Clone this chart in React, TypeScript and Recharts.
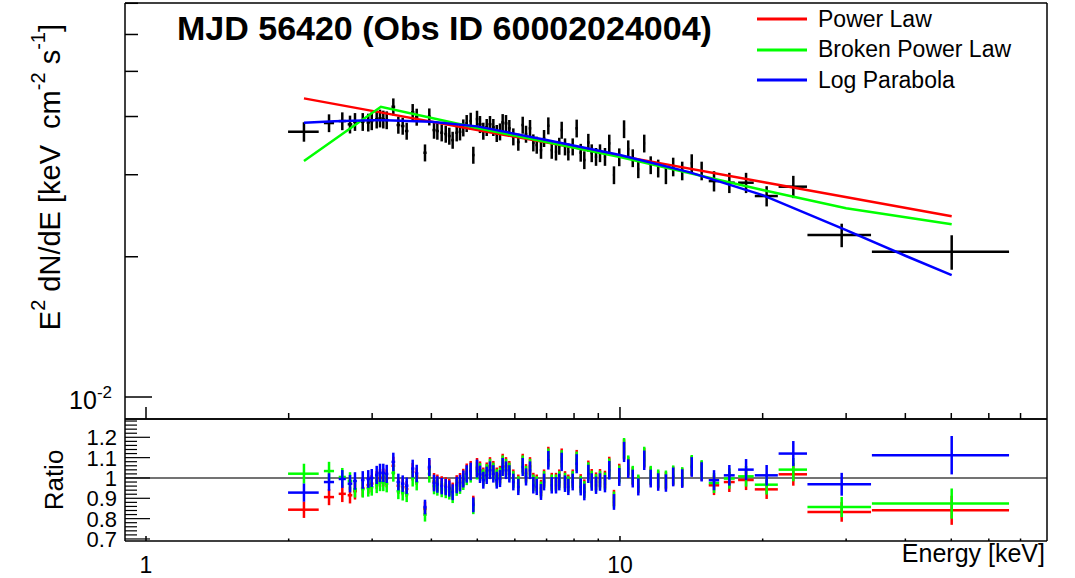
import React from 'react'
import { ComposedChart, Scatter, Line, XAxis, YAxis, ErrorBar, ReferenceLine, Legend } from 'recharts'

const FONT = '"Liberation Sans", Arial, Helvetica, sans-serif'

// 能量 (keV)
const energy = [
  2.154, 2.433, 2.595, 2.694, 2.760, 2.866, 2.944, 2.994, 3.067, 3.117,
  3.167, 3.220, 3.325, 3.407, 3.480, 3.548, 3.653, 3.725, 3.878, 3.960,
  4.052, 4.118, 4.206, 4.289, 4.364, 4.436, 4.524, 4.597, 4.671, 4.749,
  4.842, 4.904, 4.993, 5.066, 5.148, 5.234, 5.318, 5.405, 5.495, 5.583,
  5.656, 5.748, 5.842, 5.956, 6.102, 6.234, 6.335, 6.459, 6.564, 6.674,
  6.813, 6.915, 7.060, 7.178, 7.328, 7.446, 7.534, 7.656, 7.780, 7.948,
  8.103, 8.263, 8.409, 8.574, 8.717, 8.901, 9.075, 9.297, 9.493, 9.712,
  9.965, 10.20, 10.41, 10.64, 10.93, 11.25, 11.61, 12.04, 12.50, 12.95,
  13.53, 14.17, 14.87, 15.79, 17.01, 18.45, 20.39, 23.21, 29.36, 50.10
]

// 能量半宽 (keV)
const energyErr = [
  0.16, 0.06, 0.045, 0.03, 0.025, 0.025, 0.025, 0.025, 0.025, 0.025,
  0.025, 0.025, 0.03, 0.03, 0.03, 0.03, 0.03, 0.03, 0.03, 0.03,
  0.03, 0.03, 0.03, 0.03, 0.03, 0.03, 0.03, 0.03, 0.03, 0.03,
  0.03, 0.03, 0.03, 0.04, 0.04, 0.04, 0.04, 0.04, 0.04, 0.04,
  0.04, 0.04, 0.04, 0.04, 0.04, 0.04, 0.04, 0.04, 0.04, 0.04,
  0.04, 0.04, 0.04, 0.04, 0.04, 0.04, 0.04, 0.04, 0.04, 0.04,
  0.05, 0.05, 0.05, 0.05, 0.05, 0.05, 0.05, 0.05, 0.05, 0.05,
  0.05, 0.05, 0.05, 0.05, 0.05, 0.05, 0.05, 0.05, 0.05, 0.07,
  0.07, 0.07, 0.07, 0.4, 0.45, 0.7, 1.14, 1.6, 4.5, 16.1
]

// E^2 dN/dE
const flux = [
  0.03710, 0.03873, 0.03911, 0.03848, 0.03897, 0.03897, 0.03885, 0.03911, 0.03944, 0.03964,
  0.03944, 0.03930, 0.04198, 0.03835, 0.03816, 0.03723, 0.04083, 0.03990, 0.03344, 0.03995,
  0.03741, 0.03723, 0.03692, 0.03668, 0.03632, 0.03560, 0.03692, 0.03710, 0.03784, 0.03867,
  0.03911, 0.03306, 0.03950, 0.03848, 0.03723, 0.03792, 0.03848, 0.03792, 0.03681, 0.03710,
  0.03885, 0.03867, 0.03773, 0.03620, 0.03526, 0.03835, 0.03668, 0.03773, 0.03514, 0.03474,
  0.03388, 0.03591, 0.03822, 0.03388, 0.03360, 0.03456, 0.03741, 0.03445, 0.03360, 0.03445,
  0.03773, 0.03347, 0.03226, 0.03517, 0.03339, 0.03279, 0.03339, 0.03279, 0.03503, 0.02995,
  0.03273, 0.03760, 0.03405, 0.03258, 0.03085, 0.03503, 0.03147, 0.03096, 0.02995, 0.03120,
  0.03059, 0.03173, 0.03059, 0.02907, 0.02884, 0.02884, 0.02700, 0.02828, 0.02226, 0.02050
]

// 相对误差
const relErr = [
  0.048, 0.044, 0.044, 0.044, 0.044, 0.044, 0.044, 0.044, 0.044, 0.044,
  0.044, 0.044, 0.042, 0.042, 0.042, 0.042, 0.042, 0.042, 0.042, 0.042,
  0.042, 0.042, 0.042, 0.042, 0.042, 0.042, 0.042, 0.042, 0.042, 0.042,
  0.042, 0.042, 0.042, 0.042, 0.042, 0.042, 0.042, 0.042, 0.042, 0.042,
  0.042, 0.042, 0.042, 0.042, 0.042, 0.042, 0.042, 0.042, 0.042, 0.042,
  0.042, 0.042, 0.042, 0.042, 0.042, 0.042, 0.042, 0.042, 0.042, 0.042,
  0.044, 0.044, 0.044, 0.044, 0.044, 0.044, 0.044, 0.044, 0.044, 0.044,
  0.044, 0.044, 0.044, 0.044, 0.044, 0.044, 0.044, 0.044, 0.044, 0.046,
  0.046, 0.046, 0.046, 0.05, 0.05, 0.05, 0.05, 0.055, 0.058, 0.085
]

// 比值: 数据 / 模型
const ratioPowerLaw = [
  0.844, 0.906, 0.922, 0.915, 0.935, 0.950, 0.965, 0.972, 0.990, 1.000,
  1.003, 0.998, 1.060, 0.962, 0.955, 0.946, 1.030, 1.008, 0.848, 1.045,
  0.983, 0.976, 0.968, 0.963, 0.956, 0.938, 0.973, 0.983, 1.003, 1.028,
  1.040, 0.876, 1.054, 1.038, 1.009, 1.033, 1.058, 1.040, 1.009, 1.017,
  1.074, 1.058, 1.040, 1.000, 0.976, 1.074, 1.025, 1.058, 0.984, 0.976,
  0.951, 1.000, 1.107, 0.984, 0.984, 1.000, 1.099, 0.992, 0.976, 1.000,
  1.090, 0.976, 0.951, 1.040, 1.000, 0.984, 1.000, 0.992, 1.058, 0.902,
  1.025, 1.140, 1.058, 1.009, 0.968, 1.099, 1.009, 0.992, 0.987, 1.010,
  1.002, 1.059, 1.035, 0.964, 0.980, 0.990, 0.944, 1.018, 0.833, 0.841
]
const ratioBroken = [
  1.021, 1.034, 1.005, 0.985, 0.945, 0.945, 0.950, 0.955, 0.968, 0.978,
  0.978, 0.972, 1.025, 0.935, 0.928, 0.920, 1.000, 0.980, 0.820, 1.020,
  0.960, 0.953, 0.945, 0.940, 0.933, 0.915, 0.952, 0.962, 0.982, 1.007,
  1.020, 0.858, 1.036, 1.030, 1.001, 1.025, 1.050, 1.032, 1.001, 1.009,
  1.066, 1.050, 1.032, 0.992, 0.968, 1.066, 1.017, 1.050, 0.976, 0.968,
  0.943, 0.992, 1.099, 0.976, 0.976, 0.992, 1.091, 0.984, 0.968, 0.992,
  1.082, 0.968, 0.943, 1.032, 0.992, 0.976, 0.992, 0.984, 1.050, 0.894,
  1.017, 1.146, 1.064, 1.015, 0.974, 1.105, 1.015, 0.998, 0.993, 1.015,
  1.007, 1.064, 1.040, 0.975, 0.997, 1.008, 0.967, 1.041, 0.857, 0.874
]
const ratioLogPar = [
  0.928, 0.980, 0.995, 0.972, 0.985, 0.990, 0.995, 1.000, 1.015, 1.025,
  1.025, 1.020, 1.079, 0.980, 0.972, 0.962, 1.046, 1.022, 0.857, 1.054,
  0.975, 0.968, 0.960, 0.955, 0.948, 0.930, 0.965, 0.975, 0.995, 1.020,
  1.032, 0.868, 1.046, 1.018, 0.989, 1.013, 1.038, 1.020, 0.989, 0.997,
  1.054, 1.038, 1.020, 0.980, 0.956, 1.054, 1.005, 1.038, 0.964, 0.956,
  0.931, 0.980, 1.087, 0.964, 0.964, 0.980, 1.079, 0.972, 0.956, 0.980,
  1.070, 0.956, 0.931, 1.020, 0.980, 0.964, 0.980, 0.972, 1.038, 0.882,
  1.005, 1.128, 1.046, 0.997, 0.956, 1.087, 0.997, 0.980, 0.975, 1.005,
  0.997, 1.054, 1.030, 0.989, 1.013, 1.041, 1.013, 1.120, 0.969, 1.112
]

// 模型曲线
const modelNames = ['Power Law', 'Broken Power Law', 'Log Parabola']
const plEnergy = [2.154, 3, 5, 10, 20, 50.1]
const plFlux = [0.04375, 0.04113, 0.03743, 0.03293, 0.02895, 0.02443]
const bplEnergy = [2.154, 3.13, 5, 10, 20, 30, 50.1]
const bplFlux = [0.03209, 0.04198, 0.03779, 0.03273, 0.02781, 0.02541, 0.02348]
const lpEnergy = [2.154, 2.5, 3, 3.2, 4, 5, 7, 10, 14, 20, 30, 40, 50.1]
const lpFlux = [0.03879, 0.03906, 0.03926, 0.03926, 0.03897, 0.03810, 0.03560, 0.03306, 0.03039, 0.02713, 0.02282, 0.02010, 0.01827]

// 刻度
const energyTicks = [1, 2, 3, 4, 5, 6, 7, 8, 9, 10, 20, 30, 40, 50, 60, 70]
const energyLabels = [1, 10]
const fluxTicks = [0.01, 0.02, 0.03, 0.04, 0.05, 0.06, 0.07]
const ratioTicks = [
  0.7, 0.72, 0.74, 0.76, 0.78, 0.8, 0.82, 0.84, 0.86, 0.88, 0.9, 0.92, 0.94, 0.96, 0.98,
  1, 1.02, 1.04, 1.06, 1.08, 1.1, 1.12, 1.14, 1.16, 1.18, 1.2, 1.22, 1.24, 1.26, 1.28
]
const ratioLabels = [0.7, 0.8, 0.9, 1, 1.1, 1.2]

const spectrum = energy.map((e, i) => ({ e, f: flux[i], fErr: flux[i] * relErr[i], eErr: energyErr[i] }))
const ratioRows = (vals: number[]) =>
  energy.map((e, i) => ({ e, r: vals[i], rErr: vals[i] * relErr[i], eErr: energyErr[i] }))
const curve = (es: number[], fs: number[]) => es.map((e, i) => ({ e, f: fs[i] }))

const X_DOMAIN = [0.903, 79.6]

const noShape = () => <g />

function SpecXTick({ x, y, payload }: any) {
  const major = energyLabels.includes(payload.value)
  return <line x1={x} x2={x} y1={y} y2={y - (major ? 12 : 6)} stroke="#000" strokeWidth={1.5} />
}

function SpecYTick({ x, y, payload }: any) {
  const major = payload.value === 0.01
  return (
    <g>
      <line x1={x} x2={x + (major ? 27 : 13)} y1={y} y2={y} stroke="#000" strokeWidth={1.5} />
      {major && (
        <text x={x - 13} y={y + 12} textAnchor="end" fontSize={25} fontFamily={FONT} fill="#000">
          10<tspan dy={-11} fontSize={17}>-2</tspan>
        </text>
      )}
    </g>
  )
}

function RatioXTick({ x, y, payload }: any) {
  const major = energyLabels.includes(payload.value)
  return (
    <g>
      <line x1={x} x2={x} y1={y} y2={y - (major ? 5 : 2.5)} stroke="#000" strokeWidth={1.5} />
      {major && (
        <text x={x} y={y + 32} textAnchor="middle" fontSize={23} fontFamily={FONT} fill="#000">
          {payload.value}
        </text>
      )}
    </g>
  )
}

function RatioYTick({ x, y, payload }: any) {
  const major = ratioLabels.some((v) => Math.abs(v - payload.value) < 1e-6)
  return (
    <g>
      <line x1={x} x2={x + (major ? 25 : 12)} y1={y} y2={y} stroke="#000" strokeWidth={1.2} />
      {major && (
        <text x={x - 8} y={y + 8} textAnchor="end" fontSize={22} fontFamily={FONT} fill="#000">
          {payload.value}
        </text>
      )}
    </g>
  )
}

function FluxTitle(props: any) {
  const vb = props.viewBox || { x: 0, y: 0, width: 0, height: 0 }
  const x = vb.x + 50
  const y = vb.y + 21
  return (
    <text x={x} y={y} transform={`rotate(-90 ${x} ${y})`} textAnchor="end" dominantBaseline="central"
      fontSize={29} fontFamily={FONT} fill="#000" style={{ whiteSpace: 'pre' }}>
      E<tspan dy={-12} fontSize={20}>2</tspan>
      <tspan dy={12}> dN/dE [keV  cm</tspan>
      <tspan dy={-12} fontSize={20}>-2</tspan>
      <tspan dy={12}> s</tspan>
      <tspan dy={-12} fontSize={20}>-1</tspan>
      <tspan dy={12}>]</tspan>
    </text>
  )
}

function RatioTitle(props: any) {
  const vb = props.viewBox || { x: 0, y: 0, width: 0, height: 0 }
  const x = vb.x + 54
  const y = vb.y + vb.height / 2
  return (
    <text x={x} y={y} transform={`rotate(-90 ${x} ${y})`} textAnchor="middle" dominantBaseline="central"
      fontSize={26} fontFamily={FONT} fill="#000">
      Ratio
    </text>
  )
}

function EnergyTitle(props: any) {
  const vb = props.viewBox || { x: 0, y: 0, width: 0, height: 0 }
  return (
    <text x={vb.x + vb.width - 2} y={vb.y + 21} textAnchor="end" fontSize={25} fontFamily={FONT} fill="#000">
      Energy [keV]
    </text>
  )
}

function ModelLegend({ payload }: any) {
  const items = (payload || [])
    .filter((p: any) => p.type !== 'none')
    .sort((a: any, b: any) => modelNames.indexOf(a.value) - modelNames.indexOf(b.value))
  return (
    <div style={{ fontFamily: FONT, fontSize: 23, color: '#000' }}>
      {items.map((p: any) => (
        <div key={p.value} style={{ display: 'flex', alignItems: 'center', height: 30.5 }}>
          <svg width={50} height={4}>
            <line x1={0} x2={50} y1={2} y2={2} stroke={p.color} strokeWidth={3} />
          </svg>
          <span style={{ marginLeft: 11 }}>{p.value}</span>
        </div>
      ))}
    </div>
  )
}

export default function App() {
  return (
    <div style={{ position: 'relative', width: 1075, height: 578, background: '#fff', fontFamily: FONT }}>
      <style>{'body{margin:0}'}</style>

      <div style={{ position: 'absolute', left: 0, top: 0 }}>
        <ComposedChart width={1075} height={420} margin={{ top: 0, right: 0, bottom: 0, left: 0 }}>
          <XAxis dataKey="e" type="number" scale="log" domain={X_DOMAIN} allowDataOverflow
            ticks={energyTicks} interval={0} tickSize={0} tickMargin={0} tickLine={false}
            tick={<SpecXTick />} height={1} axisLine={{ stroke: '#000', strokeWidth: 1.5 }} />
          <XAxis xAxisId="top" orientation="top" type="number" domain={[0, 1]} height={3}
            tick={false} tickLine={false} axisLine={{ stroke: '#000', strokeWidth: 1.5 }} />
          <YAxis type="number" scale="log" domain={[0.00897, 0.0701]} allowDataOverflow
            ticks={fluxTicks} interval={0} tickSize={0} tickMargin={0} tickLine={false}
            tick={<SpecYTick />} width={125} axisLine={{ stroke: '#000', strokeWidth: 1.5 }}
            label={FluxTitle} />
          <YAxis yAxisId="right" orientation="right" type="number" domain={[0, 1]} width={28}
            tick={false} tickLine={false} axisLine={{ stroke: '#000', strokeWidth: 1.5 }} />
          <Legend content={ModelLegend} layout="vertical" align="center" verticalAlign="middle"
            wrapperStyle={{ top: 4, left: 757, width: 300 }} />
          <Scatter data={spectrum} dataKey="f" shape={noShape} legendType="none" isAnimationActive={false}>
            <ErrorBar dataKey="fErr" direction="y" width={0} stroke="#000" strokeWidth={2.5} isAnimationActive={false} />
            <ErrorBar dataKey="eErr" direction="x" width={0} stroke="#000" strokeWidth={2.5} isAnimationActive={false} />
          </Scatter>
          <Line data={curve(plEnergy, plFlux)} dataKey="f" name="Power Law" stroke="#ff0000" strokeWidth={2.5}
            dot={false} type="linear" isAnimationActive={false} />
          <Line data={curve(bplEnergy, bplFlux)} dataKey="f" name="Broken Power Law" stroke="#00ff00" strokeWidth={2.5}
            dot={false} type="linear" isAnimationActive={false} />
          <Line data={curve(lpEnergy, lpFlux)} dataKey="f" name="Log Parabola" stroke="#0000ff" strokeWidth={2.5}
            dot={false} type="linear" isAnimationActive={false} />
        </ComposedChart>
      </div>

      <div style={{ position: 'absolute', left: 177, top: 11, fontSize: 34, fontWeight: 'bold', lineHeight: 1, whiteSpace: 'nowrap', color: '#000' }}>
        MJD 56420 (Obs ID 60002024004)
      </div>

      <div style={{ position: 'absolute', left: 0, top: 418 }}>
        <ComposedChart width={1075} height={160} margin={{ top: 0, right: 0, bottom: 0, left: 0 }}>
          <XAxis dataKey="e" type="number" scale="log" domain={X_DOMAIN} allowDataOverflow
            ticks={energyTicks} interval={0} tickSize={0} tickMargin={0} tickLine={false}
            tick={<RatioXTick />} height={37} axisLine={{ stroke: '#000', strokeWidth: 1.5 }}
            label={EnergyTitle} />
          <XAxis xAxisId="top" orientation="top" type="number" domain={[0, 1]} height={1}
            tick={false} tickLine={false} axisLine={{ stroke: '#000', strokeWidth: 1.5 }} />
          <YAxis type="number" domain={[0.69, 1.29]} allowDataOverflow
            ticks={ratioTicks} interval={0} tickSize={0} tickMargin={0} tickLine={false}
            tick={<RatioYTick />} width={125} axisLine={{ stroke: '#000', strokeWidth: 1.5 }}
            label={RatioTitle} />
          <YAxis yAxisId="right" orientation="right" type="number" domain={[0, 1]} width={28}
            tick={false} tickLine={false} axisLine={{ stroke: '#000', strokeWidth: 1.5 }} />
          <ReferenceLine y={1} stroke="#444" strokeWidth={1.5} />
          <Scatter data={ratioRows(ratioPowerLaw)} dataKey="r" shape={noShape} isAnimationActive={false}>
            <ErrorBar dataKey="rErr" direction="y" width={0} stroke="#ff0000" strokeWidth={2.5} isAnimationActive={false} />
            <ErrorBar dataKey="eErr" direction="x" width={0} stroke="#ff0000" strokeWidth={2.5} isAnimationActive={false} />
          </Scatter>
          <Scatter data={ratioRows(ratioBroken)} dataKey="r" shape={noShape} isAnimationActive={false}>
            <ErrorBar dataKey="rErr" direction="y" width={0} stroke="#00ff00" strokeWidth={2.5} isAnimationActive={false} />
            <ErrorBar dataKey="eErr" direction="x" width={0} stroke="#00ff00" strokeWidth={2.5} isAnimationActive={false} />
          </Scatter>
          <Scatter data={ratioRows(ratioLogPar)} dataKey="r" shape={noShape} isAnimationActive={false}>
            <ErrorBar dataKey="rErr" direction="y" width={0} stroke="#0000ff" strokeWidth={2.5} isAnimationActive={false} />
            <ErrorBar dataKey="eErr" direction="x" width={0} stroke="#0000ff" strokeWidth={2.5} isAnimationActive={false} />
          </Scatter>
        </ComposedChart>
      </div>
    </div>
  )
}
